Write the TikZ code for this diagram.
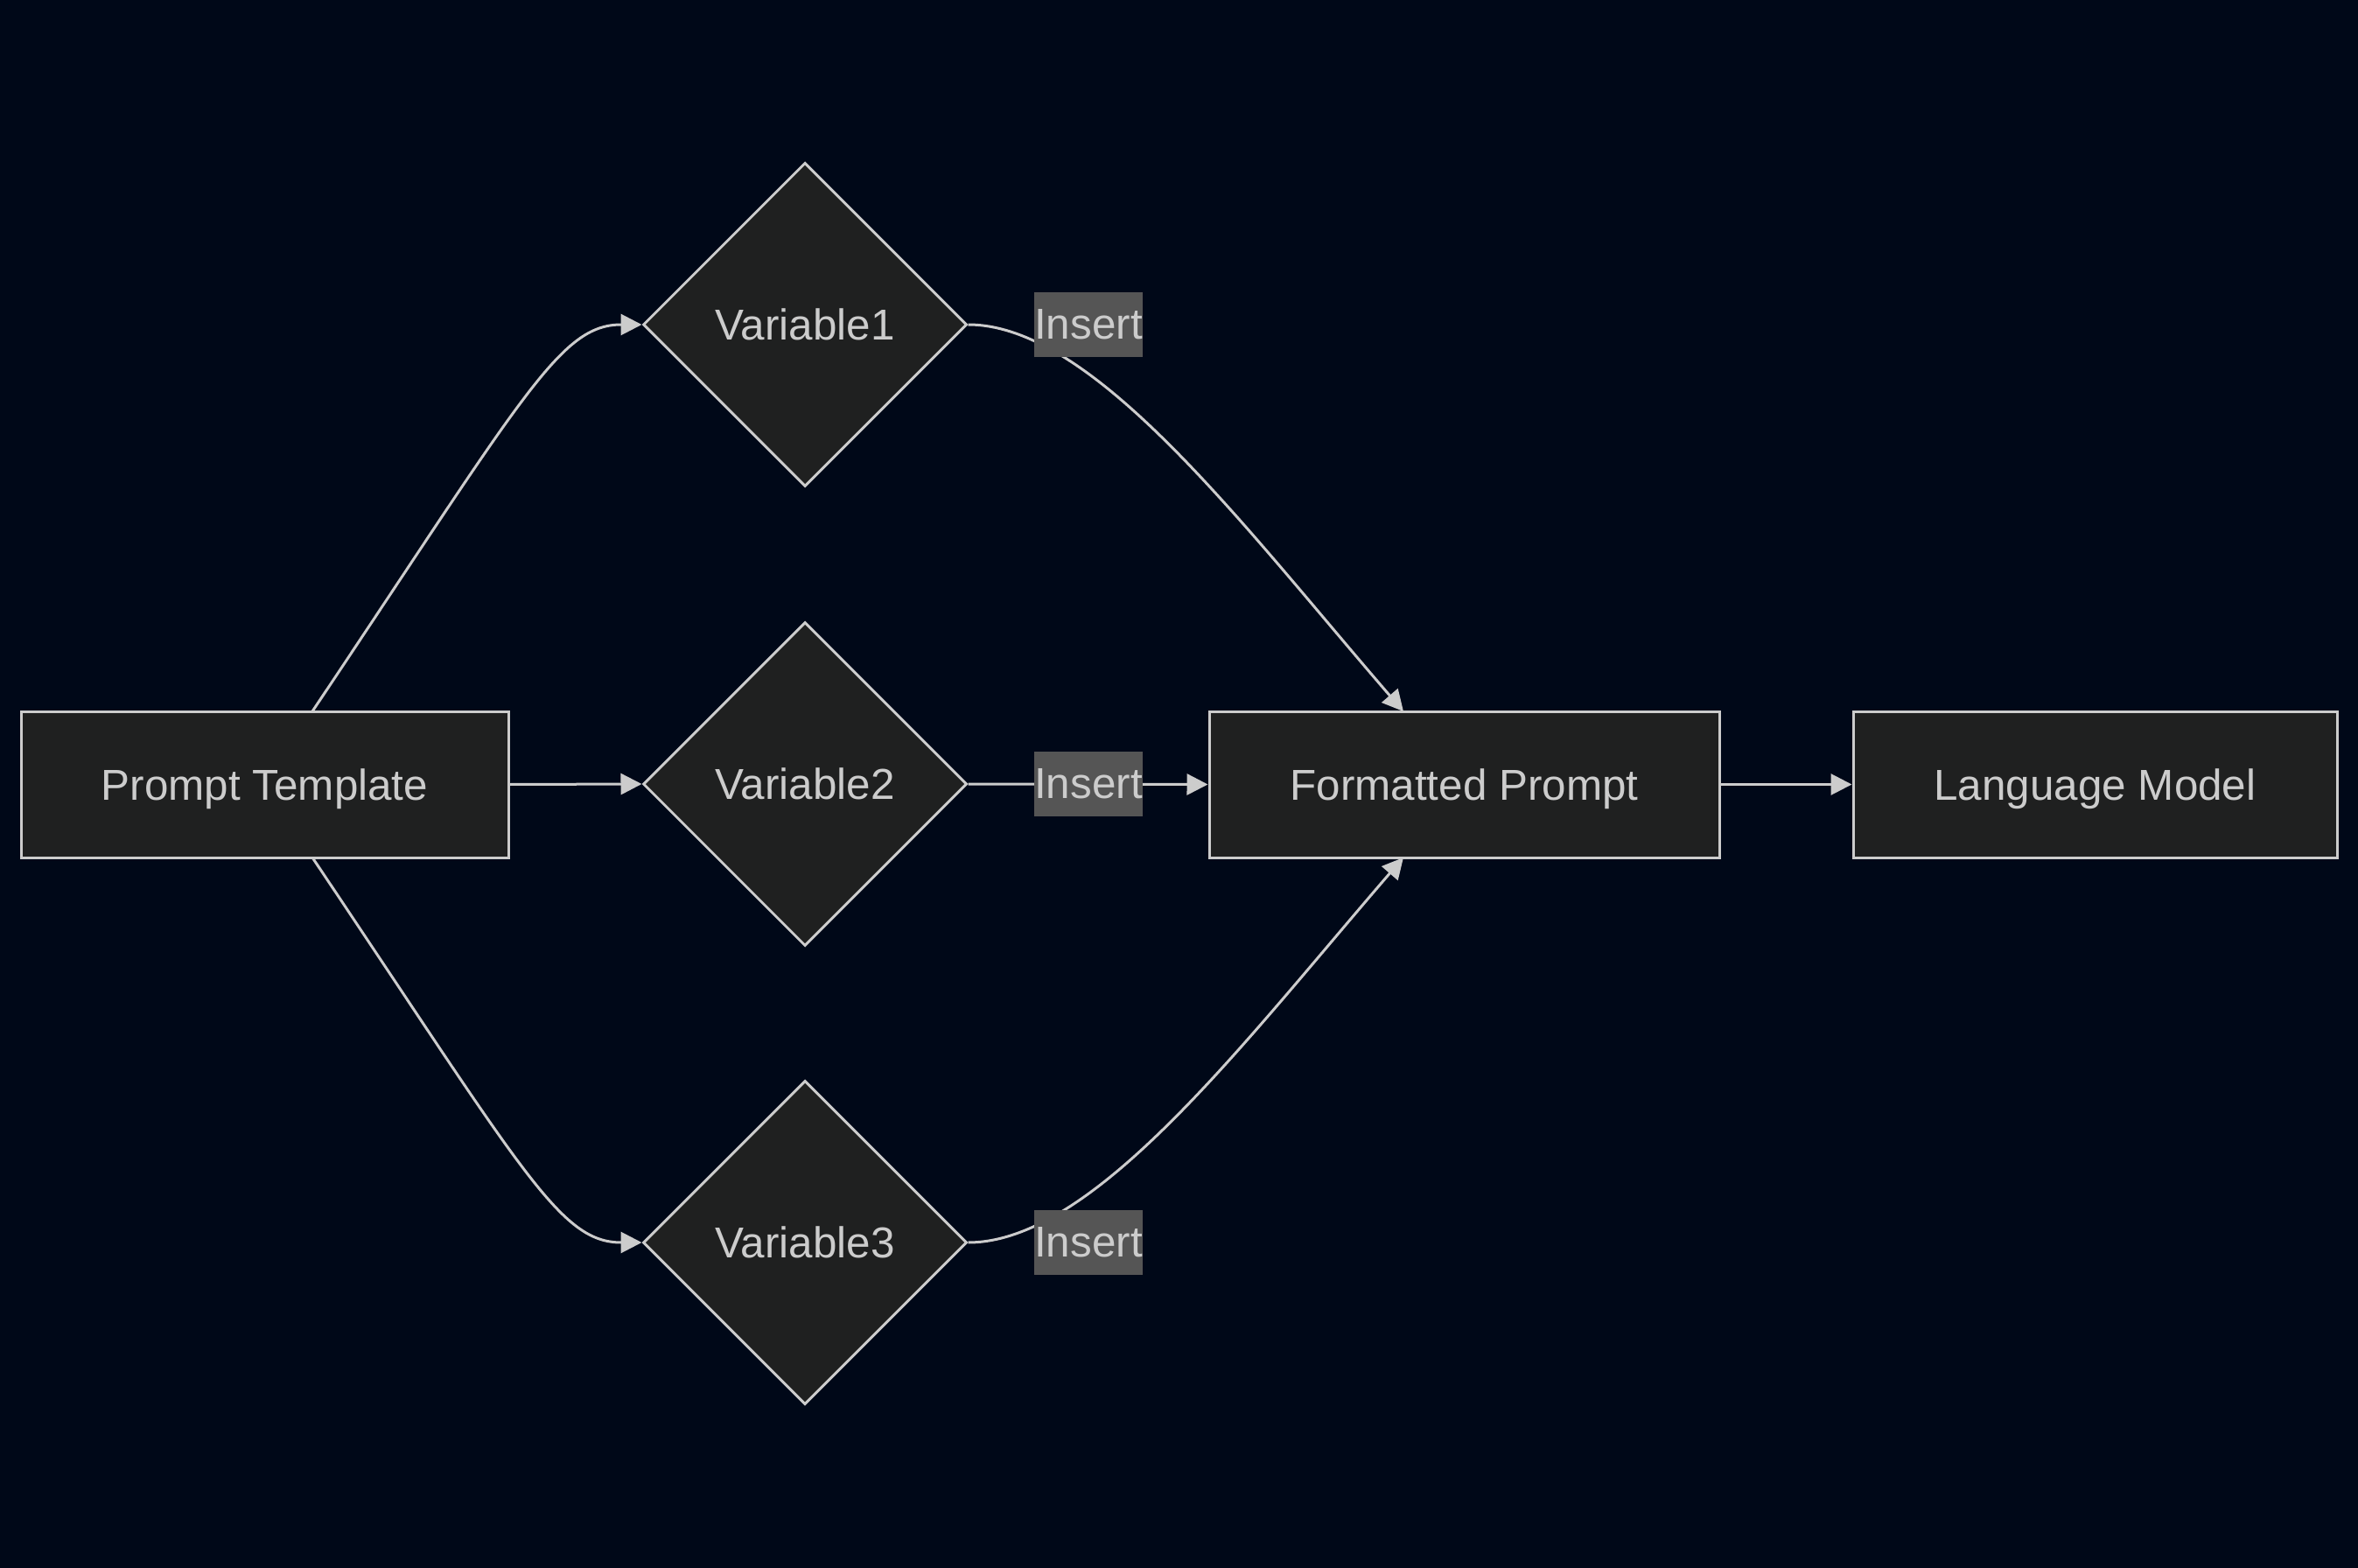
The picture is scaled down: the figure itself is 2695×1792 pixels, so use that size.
\documentclass[tikz,border=0pt]{standalone}
\usepackage{fontspec}
\setmainfont{Liberation Sans}
\usetikzlibrary{shapes.geometric,arrows.meta}
\definecolor{bg}{HTML}{000818}
\definecolor{nodefill}{HTML}{1F2020}
\definecolor{stroke}{HTML}{CCCCCC}
\definecolor{txt}{HTML}{CCCCCC}
\definecolor{lblbg}{HTML}{555555}
\begin{document}
\begin{tikzpicture}[x=0.5pt,y=-0.5pt,
  box/.style={draw=stroke,fill=nodefill,line width=1.5pt,text=txt,font=\fontsize{24.7pt}{28pt}\selectfont,minimum height=83.5pt,inner sep=0pt,text depth=0pt},
  dia/.style={diamond,draw=stroke,fill=nodefill,line width=1.5pt,text=txt,font=\fontsize{24.7pt}{28pt}\selectfont,minimum width=185pt,minimum height=185pt,aspect=1,inner sep=0pt},
  lbl/.style={fill=lblbg,text=txt,font=\fontsize{24.7pt}{28pt}\selectfont,minimum width=62pt,minimum height=37pt,inner sep=0pt},
  conn/.style={draw=stroke,line width=1.5pt,-{Triangle[length=12pt,width=12pt]}}
]
\fill[bg] (0,0) rectangle (2695,1792);
\useasboundingbox (0,0) rectangle (2695,1792);

\node[box,minimum width=278.5pt] (pt) at (302.5,896.5) {Prompt Template};
\node[dia] (v1) at (920,371) {Variable1};
\node[dia] (v2) at (920,896) {Variable2};
\node[dia] (v3) at (920,1420) {Variable3};
\node[box,minimum width=291.5pt] (fp) at (1673.5,896.5) {Formatted Prompt};
\node[box,minimum width=276.5pt] (lm) at (2394.5,896.5) {Language Model};

\coordinate (ptt) at (357,813);
\coordinate (ptb) at (357,980);
\coordinate (fpt) at (1604,813);
\coordinate (fpb) at (1604,980);

\draw[conn] (ptt) .. controls (600,450) and (640,371) .. (v1.west);
\draw[conn] (pt.east) -- (v2.west);
\draw[conn] (ptb) .. controls (600,1342) and (640,1420) .. (v3.west);

\draw[conn] (v1.east) .. controls (1250,371) and (1420,600) .. (fpt);
\draw[conn] (v2.east) -- (fp.west);
\draw[conn] (v3.east) .. controls (1250,1420) and (1420,1193) .. (fpb);
\draw[conn] (fp.east) -- (lm.west);

\node[lbl] (l1) at (1244,371) {Insert};
\node[lbl] (l2) at (1244,896) {Insert};
\node[lbl] (l3) at (1244,1420) {Insert};
\end{tikzpicture}
\end{document}
